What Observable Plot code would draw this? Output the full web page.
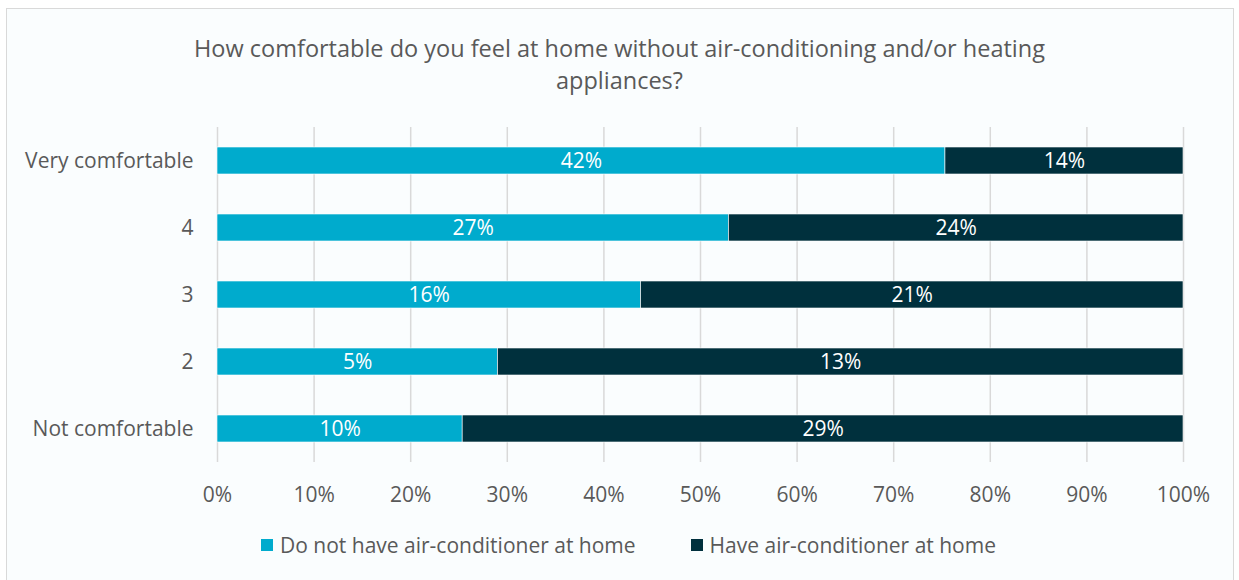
<!DOCTYPE html>
<html>
<head>
<meta charset="utf-8">
<script src="https://cdn.jsdelivr.net/npm/d3@7"></script>
<script src="https://cdn.jsdelivr.net/npm/@observablehq/plot@0.6"></script>
<style>
  html, body { margin: 0; padding: 0; background: #ffffff; }
  #frame { position: absolute; left: 6px; top: 8px; width: 1228px; height: 580px; border: 1px solid #d9d9d9; background: #fafdfe; box-sizing: border-box; }
  #title { position: absolute; left: 0; top: 32px; width: 1239px; text-align: center; font-family: "Open Sans", sans-serif; font-size: 23.5px; line-height: 32px; color: #595959; }
  #chart { position: absolute; left: 0; top: 120px; }
  #legend { position: absolute; left: 9px; top: 531px; width: 1239px; display: flex; justify-content: center; gap: 55px; font-family: "Open Sans", sans-serif; font-size: 21px; color: #595959; }
  .item { display: flex; align-items: center; gap: 7px; }
  .sw { width: 12px; height: 12px; display: inline-block; }
</style>
</head>
<body>
<div id="frame"></div>
<div id="title">How comfortable do you feel at home without air-conditioning and/or heating<br>appliances?</div>
<div id="chart"></div>
<div id="legend"></div>
<script>
const categories = ["Very comfortable", "4", "3", "2", "Not comfortable"];
const seriesNames = ["Do not have air-conditioner at home", "Have air-conditioner at home"];
const noAC = [42.2, 27, 16.4, 5.4, 10];
const haveAC = [13.8, 24, 21, 13.2, 29.4];
const xTicks = [0, 0.1, 0.2, 0.3, 0.4, 0.5, 0.6, 0.7, 0.8, 0.9, 1];
const colors = ["#00abcd", "#00303d"];

const data = [];
categories.forEach((c, i) => {
  data.push({cat: c, series: seriesNames[0], value: noAC[i]});
  data.push({cat: c, series: seriesNames[1], value: haveAC[i]});
});

const chart = Plot.plot({
  width: 1239,
  height: 400,
  marginLeft: 217,
  marginRight: 56,
  marginTop: 7,
  marginBottom: 58,
  style: {fontFamily: "'Open Sans', sans-serif", fontSize: "21px", color: "#595959", background: "transparent"},
  x: {domain: [0, 1], ticks: xTicks, tickFormat: d3.format(".0%"), label: null},
  y: {domain: categories, paddingInner: 0.6, paddingOuter: 0.3, label: null},
  color: {domain: seriesNames, range: colors},
  marks: [
    Plot.gridX(xTicks, {stroke: "#d9d9d9", strokeOpacity: 1, strokeWidth: 1.5}),
    Plot.barX(data, Plot.stackX({x: "value", y: "cat", fill: "series", offset: "normalize", stroke: "#ffffff", strokeWidth: 0.6})),
    Plot.text(data, Plot.stackX({x: "value", y: "cat", z: "series", offset: "normalize", text: d => Math.round(d.value) + "%", fill: "white", fontSize: 21})),
    Plot.axisX(xTicks, {tickSize: 0, tickPadding: 25, tickFormat: d3.format(".0%"), fontSize: 21, fill: "#595959", label: null}),
    Plot.axisY({tickSize: 0, tickPadding: 24, fontSize: 21, fill: "#595959", label: null})
  ]
});
document.getElementById("chart").appendChild(chart);

const legend = document.getElementById("legend");
seriesNames.forEach((s, i) => {
  const it = document.createElement("div");
  it.className = "item";
  it.innerHTML = `<span class="sw" style="background:${colors[i]}"></span><span>${s}</span>`;
  legend.appendChild(it);
});
</script>
</body>
</html>
